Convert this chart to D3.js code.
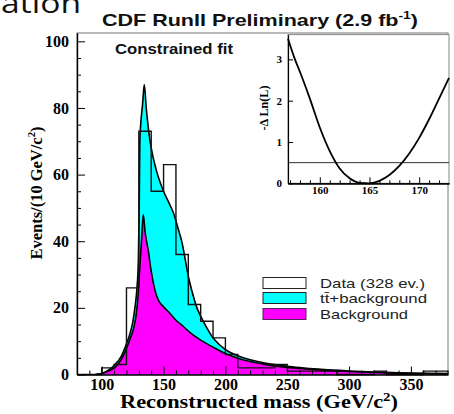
<!DOCTYPE html>
<html><head><meta charset="utf-8">
<script src="https://cdn.jsdelivr.net/npm/d3@7"></script>
<style>html,body{margin:0;padding:0;background:#fff;overflow:hidden} svg{display:block}</style>
</head><body>
<svg id="c" width="454" height="414"></svg>
<script>
// ---------------- data ----------------
const binLow = [80,90,100,110,120,130,140,150,160,170,180,190,200,210,220,230,240,250,260,270,280,290,300,310,320,330,340,350,360,370];
const binEdgeMax = 380;
const dataCounts = [0,0,2,3,26,73,55,63,36,21,16,11,6,2,2,2,3,1,1,1,1,0,0,0,1,0,0,0,1,1];

const totalMass = [95,100,105,110,116,120,123,125,127,128.5,129.6,130.3,130.8,131.5,133,134.4,136,138,140,144,150,155,158,162,165,168,170,173,177,180,185,190,195,200,210,220,230,240,250,260,275,300,320,340,360,380];
const totalVal  = [0,0.3,1.2,2.7,5.6,9.2,12.5,15.5,20.5,26,34,50,70,75,81,87,80,73,68,61.5,55,51,48.5,43.5,39.5,33.5,29.5,25,20,17.5,14,11,9,7.5,5.6,4.4,3.6,3.0,2.5,2.1,1.6,1.05,0.75,0.5,0.35,0.25];

const bkgMass = [95,100,104,108,111,116,120,123,126,128.5,129.6,130.9,132.3,133.6,135,137.7,140,142,144,146,150,155,160,166,172,180,190,200,210,220,230,240,250,260,275,300,320,340,360,380];
const bkgVal  = [0,0.3,0.8,1.5,2.2,4.6,7.8,10.8,14.2,20,25,33,41,48,43,37,31,27,24,22.2,20.3,18.4,16.3,14.4,12.4,10.3,8.2,6.3,4.9,3.9,3.2,2.6,2.15,1.8,1.4,0.9,0.6,0.4,0.3,0.2];

const xMajorTicks = [100,150,200,250,300,350];
const xMinorTicks = [80,90,110,120,130,140,160,170,180,190,210,220,230,240,260,270,280,290,310,320,330,340,360,370];
const yMajorTicks = [0,20,40,60,80,100];
const yMinorTicks = [5,10,15,25,30,35,45,50,55,65,70,75,85,90,95];

// inset (-Delta ln L scan)
const scanMass = [156.8,157.5,158,159,160,161,162,163,164,165,166,167,168,169,170,171,172,173];
const scanVal  = [3.5,3.0,2.7,2.05,1.35,0.78,0.36,0.12,0.01,0.0,0.06,0.2,0.42,0.72,1.1,1.55,2.05,2.55];
const scanLevel = 0.5;
const insetXMajor = [160,165,170];
const insetXMinor = [157,158,159,161,162,163,164,166,167,168,169,171,172];
const insetYMajor = [0,1,2,3];

const legendLabels = ["Data (328 ev.)", "tt\u0304+background", "Background"];

// ---------------- drawing ----------------
const svg = d3.select("#c");
const serif = "'Liberation Serif','Times New Roman',serif";
const sans = "'Liberation Sans',Arial,sans-serif";

const x = d3.scaleLinear().domain([80,380]).range([77,448]);
const y = d3.scaleLinear().domain([0,102.5]).range([374.5,33]);

// slide header fragment
svg.append("text").attr("x",1).attr("y",13)
  .attr("font-family","'Open Sans',sans-serif").attr("font-size",28).attr("fill","#111")
  .attr("textLength",80).attr("lengthAdjust","spacingAndGlyphs").text("ation");

// title
const tt = svg.append("text").attr("x",102).attr("y",26)
  .attr("font-family",sans).attr("font-weight","bold").attr("font-size",17).attr("fill","#111");
tt.append("tspan").text("CDF RunII Preliminary (2.9 fb");
tt.append("tspan").attr("dy",-7).attr("font-size",11).text("-1");
tt.append("tspan").attr("dy",7).text(")");
tt.attr("textLength",316).attr("lengthAdjust","spacingAndGlyphs");

// frame
svg.append("rect").attr("x",x(80)).attr("y",y(102.5))
  .attr("width",x(380)-x(80)).attr("height",y(0)-y(102.5))
  .attr("fill","none").attr("stroke","#777").attr("stroke-width",1);

const tot = totalMass.map((m,i)=>[m,totalVal[i]]);
const bkg = bkgMass.map((m,i)=>[m,bkgVal[i]]);
const area = d3.area().x(d=>x(d[0])).y0(y(0)).y1(d=>y(d[1])).curve(d3.curveMonotoneX);
const line = d3.line().x(d=>x(d[0])).y(d=>y(d[1])).curve(d3.curveMonotoneX);

svg.append("path").attr("d",area(tot)).attr("fill","#00FFFF");
svg.append("path").attr("d",area(bkg)).attr("fill","#FF00FF");
svg.append("path").attr("d",line(tot)).attr("fill","none").attr("stroke","#000").attr("stroke-width",1.6);
svg.append("path").attr("d",line(bkg)).attr("fill","none").attr("stroke","#000").attr("stroke-width",1.6);

// data histogram outline
const steps = [[binLow[0],0]];
binLow.forEach((lo,i)=>{
  const hi = i<binLow.length-1 ? binLow[i+1] : binEdgeMax;
  steps.push([lo,dataCounts[i]]); steps.push([hi,dataCounts[i]]);
});
steps.push([binEdgeMax,0]);
svg.append("path").attr("d",d3.line().x(d=>x(d[0])).y(d=>y(d[1]))(steps))
  .attr("fill","none").attr("stroke","#111").attr("stroke-width",1.4);

// axes
function styleAxis(g){
  g.selectAll("path.domain").attr("stroke","#000").attr("stroke-width",1.2);
  g.selectAll(".tick line").attr("stroke","#000").attr("stroke-width",1);
  g.selectAll(".tick text").attr("font-family",serif).attr("font-weight","bold").attr("font-size",16).attr("fill","#000");
}
const gy = svg.append("g").attr("transform",`translate(${x(80)},0)`)
  .call(d3.axisLeft(y).tickValues(yMajorTicks).tickSizeInner(-8).tickSizeOuter(0).tickPadding(8).tickFormat(d3.format("d")));
styleAxis(gy);
const gy2 = svg.append("g").attr("transform",`translate(${x(80)},0)`)
  .call(d3.axisLeft(y).tickValues(yMinorTicks).tickSizeInner(-4).tickSizeOuter(0).tickFormat(""));
styleAxis(gy2);
const gx = svg.append("g").attr("transform",`translate(0,${y(0)})`)
  .call(d3.axisBottom(x).tickValues(xMajorTicks).tickSizeInner(-8).tickSizeOuter(0).tickPadding(4).tickFormat(d3.format("d")));
styleAxis(gx);
const gx2 = svg.append("g").attr("transform",`translate(0,${y(0)})`)
  .call(d3.axisBottom(x).tickValues(xMinorTicks).tickSizeInner(-4).tickSizeOuter(0).tickFormat(""));
styleAxis(gx2);

// axis titles
const xt = svg.append("text").attr("x",259).attr("y",408).attr("text-anchor","middle")
  .attr("font-family",serif).attr("font-weight","bold").attr("font-size",18).attr("fill","#000");
xt.append("tspan").text("Reconstructed mass (GeV/c");
xt.append("tspan").attr("dy",-7).attr("font-size",12).text("2");
xt.append("tspan").attr("dy",7).text(")");
xt.attr("textLength",278).attr("lengthAdjust","spacingAndGlyphs");

const yt = svg.append("text").attr("transform","translate(42,193) rotate(-90)").attr("text-anchor","middle")
  .attr("font-family",serif).attr("font-weight","bold").attr("font-size",17).attr("fill","#000");
yt.append("tspan").text("Events/(10 GeV/c");
yt.append("tspan").attr("dy",-7).attr("font-size",11).text("2");
yt.append("tspan").attr("dy",7).text(")");
yt.attr("textLength",133).attr("lengthAdjust","spacingAndGlyphs");

svg.append("text").attr("x",115).attr("y",54)
  .attr("font-family",sans).attr("font-weight","bold").attr("font-size",14).attr("fill","#111")
  .attr("textLength",118).attr("lengthAdjust","spacingAndGlyphs").text("Constrained fit");

// legend
const legFill = ["#fff","#00FFFF","#FF00FF"];
const legStroke = ["#222","#222","#552255"];
const legY = [283,298,314];
const lg = svg.append("g");
legendLabels.forEach((lab,i)=>{
  lg.append("rect").attr("x",263).attr("y",legY[i]-5.5).attr("width",43).attr("height",11)
    .attr("fill",legFill[i]).attr("stroke",legStroke[i]).attr("stroke-width",1);
  lg.append("text").attr("x",320).attr("y",legY[i]+4.5)
    .attr("font-family",sans).attr("font-size",13).attr("fill","#222")
    .attr("textLength",[105,107,88][i]).attr("lengthAdjust","spacingAndGlyphs").text(lab);
});

// inset
const xi = d3.scaleLinear().domain([156.8,173]).range([288,449]);
const yi = d3.scaleLinear().domain([0,3.6]).range([183.3,34.6]);
const ig = svg.append("g");
ig.append("rect").attr("x",xi(156.8)).attr("y",yi(3.6)).attr("width",xi(173)-xi(156.8)).attr("height",yi(0)-yi(3.6))
  .attr("fill","#fff").attr("stroke","#888").attr("stroke-width",1);
ig.append("line").attr("x1",xi(156.8)).attr("x2",xi(173)).attr("y1",yi(scanLevel)).attr("y2",yi(scanLevel))
  .attr("stroke","#333").attr("stroke-width",1);
ig.append("path").attr("d",d3.line().x(d=>xi(d[0])).y(d=>yi(d[1])).curve(d3.curveMonotoneX)(scanMass.map((m,i)=>[m,scanVal[i]])))
  .attr("fill","none").attr("stroke","#000").attr("stroke-width",1.8);
function styleInset(g){
  g.selectAll("path.domain").attr("stroke","#000").attr("stroke-width",1.2);
  g.selectAll(".tick line").attr("stroke","#000");
  g.selectAll(".tick text").attr("font-family",serif).attr("font-weight","bold").attr("font-size",11).attr("fill","#000");
}
const iy = ig.append("g").attr("transform",`translate(${xi(156.8)},0)`)
  .call(d3.axisLeft(yi).tickValues(insetYMajor).tickSizeInner(-5).tickSizeOuter(0).tickPadding(6).tickFormat(d3.format("d")));
styleInset(iy);
const ix = ig.append("g").attr("transform",`translate(0,${yi(0)})`)
  .call(d3.axisBottom(xi).tickValues(insetXMajor).tickSizeInner(-6).tickSizeOuter(0).tickPadding(3).tickFormat(d3.format("d")));
styleInset(ix);
const ix2 = ig.append("g").attr("transform",`translate(0,${yi(0)})`)
  .call(d3.axisBottom(xi).tickValues(insetXMinor).tickSizeInner(-3).tickSizeOuter(0).tickFormat(""));
styleInset(ix2);
ig.append("text").attr("transform","translate(268,108) rotate(-90)").attr("text-anchor","middle")
  .attr("font-family",serif).attr("font-weight","bold").attr("font-size",12).attr("fill","#000")
  .attr("textLength",45).attr("lengthAdjust","spacingAndGlyphs").text("-\u0394 Ln(L)");
</script>
</body></html>
